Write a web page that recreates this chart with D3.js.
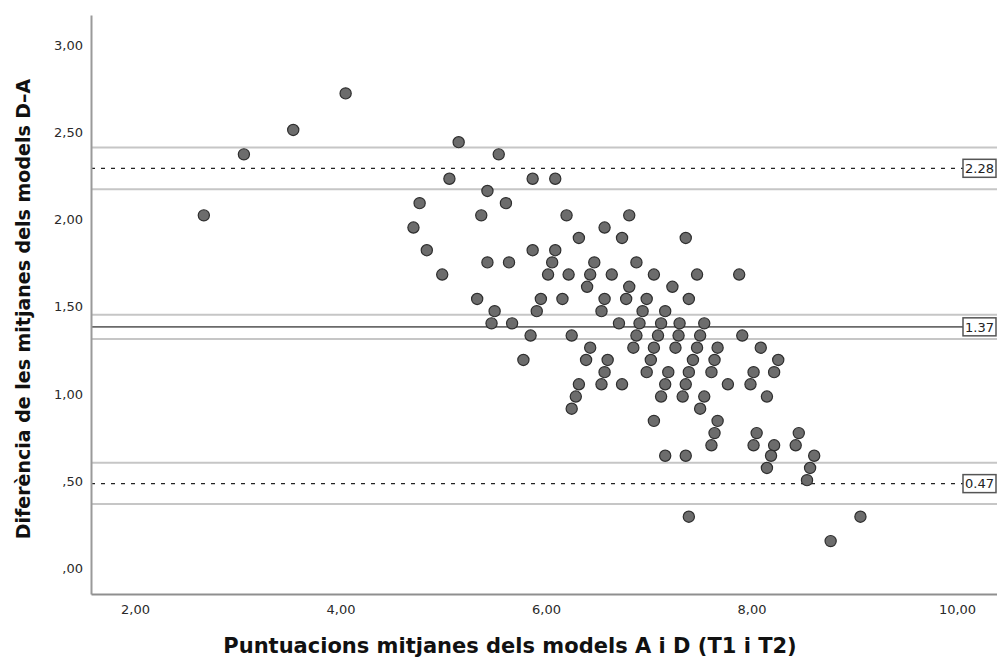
<!DOCTYPE html>
<html>
<head>
<meta charset="utf-8">
<script src="https://cdn.jsdelivr.net/npm/d3@7"></script>
<style>
  html, body { margin: 0; padding: 0; background: #fff; }
  svg { display: block; }
</style>
</head>
<body>
<svg id="chart" width="997" height="659"></svg>
<script>
// Mean of models A and D (x) and difference D-A (y)
const meanScore = [
  2.67, 3.06, 3.54, 4.05, 4.71, 4.77, 4.84, 4.99, 5.06, 5.15,
  5.33, 5.37, 5.43, 5.43, 5.47, 5.50, 5.54, 5.61, 5.64, 5.67,
  5.87, 6.09, 5.87, 6.09, 6.20, 6.81, 6.57, 6.74, 6.32, 6.06,
  6.47, 6.88, 6.02, 6.22, 6.43, 6.64, 7.05, 7.47, 7.88, 6.40,
  6.81, 7.23, 5.95, 6.16, 6.57, 6.78, 6.98, 7.39, 5.91, 6.54,
  6.94, 7.16, 6.71, 6.91, 7.12, 7.30, 7.54, 5.85, 6.25, 6.88,
  7.09, 7.29, 7.50, 7.91, 6.43, 6.85, 7.05, 7.26, 7.47, 7.67,
  8.09, 5.78, 6.39, 6.60, 7.02, 7.43, 7.64, 8.26, 6.57, 6.98,
  7.19, 7.39, 7.61, 8.02, 8.22, 6.32, 6.54, 6.74, 7.16, 7.36,
  7.77, 7.99, 6.29, 7.12, 7.33, 7.54, 8.15, 6.25, 7.50, 7.05,
  7.67, 7.64, 8.05, 8.46, 7.61, 8.02, 8.22, 8.43, 7.16, 7.36,
  8.19, 8.61, 8.15, 8.57, 8.54, 7.39, 9.06, 8.77, 7.36
];
const difference = [
  2.01, 2.36, 2.50, 2.71, 1.94, 2.08, 1.81, 1.67, 2.22, 2.43,
  1.53, 2.01, 2.15, 1.74, 1.39, 1.46, 2.36, 2.08, 1.74, 1.39,
  2.22, 2.22, 1.81, 1.81, 2.01, 2.01, 1.94, 1.88, 1.88, 1.74,
  1.74, 1.74, 1.67, 1.67, 1.67, 1.67, 1.67, 1.67, 1.67, 1.60,
  1.60, 1.60, 1.53, 1.53, 1.53, 1.53, 1.53, 1.53, 1.46, 1.46,
  1.46, 1.46, 1.39, 1.39, 1.39, 1.39, 1.39, 1.32, 1.32, 1.32,
  1.32, 1.32, 1.32, 1.32, 1.25, 1.25, 1.25, 1.25, 1.25, 1.25,
  1.25, 1.18, 1.18, 1.18, 1.18, 1.18, 1.18, 1.18, 1.11, 1.11,
  1.11, 1.11, 1.11, 1.11, 1.11, 1.04, 1.04, 1.04, 1.04, 1.04,
  1.04, 1.04, 0.97, 0.97, 0.97, 0.97, 0.97, 0.90, 0.90, 0.83,
  0.83, 0.76, 0.76, 0.76, 0.69, 0.69, 0.69, 0.69, 0.63, 0.63,
  0.63, 0.63, 0.56, 0.56, 0.49, 0.28, 0.28, 0.14, 1.88
];

// Bland-Altman reference lines
const limitNames  = ["Límit superior", "Mitjana", "Límit inferior"];
const limitValues = [2.28, 1.37, 0.47];
const limitLabels = ["2.28", "1.37", "0.47"];
const limitDashed = [true, false, true];
// confidence bands around each line
const ciLower = [2.16, 1.30, 0.353];
const ciUpper = [2.40, 1.44, 0.59];

const xTicks = [2, 4, 6, 8, 10];
const yTicks = [0, 0.5, 1, 1.5, 2, 2.5, 3];

const xTitle = "Puntuacions mitjanes dels models A i D (T1 i T2)";
const yTitle = "Diferència de les mitjanes dels models D–A";

const xDomain = [1.572, 10.389];
const yDomain = [-0.1636, 3.160];

// ---------------------------------------------------------------
(function () {
const svg = d3.select("#chart");
const pLeft = 91, pRight = 997, pTop = 15, pBottom = 594;

const x = d3.scaleLinear().domain(xDomain).range([pLeft, pRight]);
const y = d3.scaleLinear().domain(yDomain).range([pBottom, pTop]);

const fmt = v => {
  let s = v.toFixed(2).replace(".", ",");
  if (s.startsWith("0,")) s = s.slice(1);
  return s;
};

// CI band lines
const ciVals = ciLower.concat(ciUpper);
svg.append("g").selectAll("line").data(ciVals).join("line")
  .attr("x1", pLeft).attr("x2", pRight)
  .attr("y1", d => y(d)).attr("y2", d => y(d))
  .attr("stroke", "#c6c6c6").attr("stroke-width", 2);

// main lines
const boxW = 33, boxH = 18, boxX = 963;
const limits = limitValues.map((v, i) => ({v, label: limitLabels[i], dashed: limitDashed[i], name: limitNames[i]}));
svg.append("g").selectAll("line").data(limits).join("line")
  .attr("x1", pLeft).attr("x2", boxX)
  .attr("y1", d => y(d.v)).attr("y2", d => y(d.v))
  .attr("stroke", d => d.dashed ? "#222" : "#6a6a6a")
  .attr("stroke-width", d => d.dashed ? 1.3 : 1.6)
  .attr("stroke-dasharray", d => d.dashed ? "4,6" : null);

// points
const pts = meanScore.map((m, i) => ({m, d: difference[i]}));
svg.append("g").selectAll("circle").data(pts).join("circle")
  .attr("cx", p => x(p.m)).attr("cy", p => y(p.d))
  .attr("r", 5.6)
  .attr("fill", "#6c6c6c")
  .attr("stroke", "#2e2e2e")
  .attr("stroke-width", 1.2);

// axes
const yAxis = d3.axisLeft(y).tickValues(yTicks).tickFormat(fmt).tickSize(0).tickSizeOuter(0).tickPadding(8);
const gy = svg.append("g").attr("transform", `translate(${pLeft},0)`).call(yAxis);
gy.select(".domain").attr("stroke", "#9a9a9a").attr("stroke-width", 2);
gy.selectAll("text").attr("font-family", "DejaVu Sans, Verdana, sans-serif")
  .attr("font-size", 13).attr("fill", "#2a2a2a").attr("dy", "0.52em");

const xAxis = d3.axisBottom(x).tickValues(xTicks).tickFormat(fmt).tickSize(0).tickSizeOuter(0).tickPadding(11);
const gx = svg.append("g").attr("transform", `translate(0,${pBottom})`).call(xAxis);
gx.select(".domain").attr("stroke", "#8f8f8f").attr("stroke-width", 2);
gx.selectAll("text").attr("font-family", "DejaVu Sans, Verdana, sans-serif")
  .attr("font-size", 13).attr("fill", "#2a2a2a");

// label boxes
const lb = svg.append("g").selectAll("g").data(limits).join("g")
  .attr("transform", d => `translate(${boxX},${y(d.v) - boxH / 2})`);
lb.append("rect").attr("width", boxW).attr("height", boxH)
  .attr("fill", "#fff").attr("stroke", "#555").attr("stroke-width", 1.5);
lb.append("text").attr("x", boxW / 2).attr("y", boxH / 2).attr("dy", "0.36em")
  .attr("text-anchor", "middle")
  .attr("font-family", "DejaVu Sans, Verdana, sans-serif").attr("font-size", 13)
  .attr("fill", "#222").text(d => d.label);

// titles
svg.append("text").attr("x", 510).attr("y", 653)
  .attr("text-anchor", "middle")
  .attr("font-family", "DejaVu Sans, Verdana, sans-serif")
  .attr("font-weight", "bold").attr("font-size", 21).attr("fill", "#111")
  .text(xTitle);

svg.append("text")
  .attr("transform", "translate(30,309) rotate(-90)")
  .attr("text-anchor", "middle")
  .attr("font-family", "DejaVu Sans, Verdana, sans-serif")
  .attr("font-weight", "bold").attr("font-size", 19).attr("fill", "#111")
  .text(yTitle);
})();
</script>
</body>
</html>
